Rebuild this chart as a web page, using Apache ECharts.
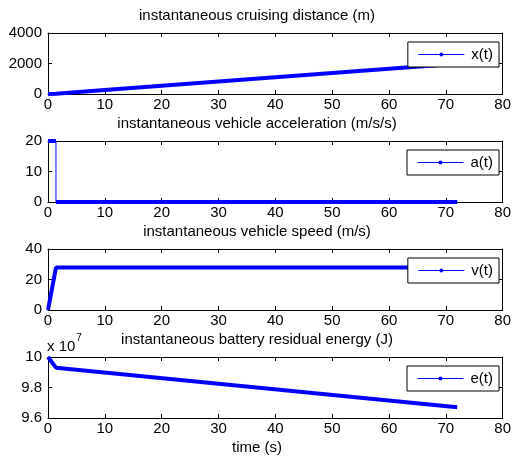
<!DOCTYPE html>
<html>
<head>
<meta charset="utf-8">
<script src="https://cdn.jsdelivr.net/npm/echarts@6/dist/echarts.min.js"></script>
<style>
html, body { margin: 0; padding: 0; background: #fff; }
#chart { width: 514px; height: 460px; }
</style>
</head>
<body>
<div id="chart"></div>
<script>
// time samples (s) and values
const tX = [0, 1.4, 10, 20, 30, 40, 50, 60, 72];
const xVals = [0, 19, 258, 536, 814, 1092, 1370, 1648, 1981];
const tA = [0, 1.4, 1.4, 72];
const aVals = [20, 20, 0, 0];
const tV = [0, 1.4, 72];
const vVals = [0, 27.8, 27.8];
const tE = [0, 1.4, 72];
const eVals = [1.0e8, 9.93e7, 9.67e7];

const titles = [
  'instantaneous cruising distance (m)',
  'instantaneous vehicle acceleration (m/s/s)',
  'instantaneous vehicle speed (m/s)',
  'instantaneous battery residual energy (J)'
];
const names = ['x(t)', 'a(t)', 'v(t)', 'e(t)'];
const yRanges = [[0, 4000, 2000], [0, 20, 10], [0, 40, 20], [9.6e7, 1.0e8, 0.2e7]];
const xTicks = [0, 80, 10];

const font = "'Liberation Sans', Arial, sans-serif";
const fs = 15;
const blue = '#0000ff';
const tops = [33, 141, 249, 357];
const plotH = 61;

function pairs(ts, vs) {
  return ts.map((t, i) => [t, vs[i]]);
}

const grids = [], xAxes = [], yAxes = [], series = [], legends = [], graphics = [];

tops.forEach((top, i) => {
  grids.push({ left: 48, right: 8, top: top, height: plotH, show: false });
  const tickStyle = { show: true, inside: true, length: 4, lineStyle: { color: '#000', width: 1 } };
  // bottom x axis with labels
  xAxes.push({
    type: 'value', gridIndex: i, min: xTicks[0], max: xTicks[1], interval: xTicks[2],
    position: 'bottom',
    axisLine: { show: true, lineStyle: { color: '#000', width: 1 } },
    axisTick: tickStyle, splitLine: { show: false },
    axisLabel: { color: '#000', fontFamily: font, fontSize: fs, margin: 3, formatter: v => String(v) }
  });
  // top x axis, ticks only
  xAxes.push({
    type: 'value', gridIndex: i, min: xTicks[0], max: xTicks[1], interval: xTicks[2],
    position: 'top',
    axisLine: { show: true, onZero: false, lineStyle: { color: '#000', width: 1 } },
    axisTick: tickStyle, splitLine: { show: false }, axisLabel: { show: false }
  });
  const yr = yRanges[i];
  yAxes.push({
    type: 'value', gridIndex: i, min: yr[0], max: yr[1], interval: yr[2],
    position: 'left',
    axisLine: { show: true, onZero: false, lineStyle: { color: '#000', width: 1 } },
    axisTick: tickStyle, splitLine: { show: false },
    axisLabel: {
      color: '#000', fontFamily: font, fontSize: fs, margin: 6,
      formatter: i === 3 ? (v => String(+(v / 1e7).toFixed(1))) : (v => String(v))
    }
  });
  yAxes.push({
    type: 'value', gridIndex: i, min: yr[0], max: yr[1], interval: yr[2],
    position: 'right',
    axisLine: { show: true, onZero: false, lineStyle: { color: '#000', width: 1 } },
    axisTick: tickStyle, splitLine: { show: false }, axisLabel: { show: false }
  });

  graphics.push({
    type: 'text', left: 'center', top: top - 25,
    style: { text: titles[i], font: fs + 'px ' + font, fill: '#000' }
  });

  legends.push({
    data: [names[i]],
    right: 15, top: top + 9,
    orient: 'vertical',
    backgroundColor: '#fff', borderColor: '#000', borderWidth: 1, borderRadius: 0,
    padding: [5, 6, 5, 10],
    itemWidth: 46, itemHeight: 5, itemGap: 0,
    lineStyle: { width: 1 },
    textStyle: { color: '#000', fontFamily: font, fontSize: fs, padding: [0, 0, 0, 2] },
    selectedMode: false
  });
});

const lineSeries = (name, idx, data, width) => ({
  name: name, type: 'line', xAxisIndex: idx * 2, yAxisIndex: idx * 2,
  data: data, symbol: 'circle', symbolSize: 3, showSymbol: false,
  lineStyle: { color: blue, width: width }, itemStyle: { color: blue },
  animation: false, silent: true
});

series.push(lineSeries('x(t)', 0, pairs(tX, xVals), 4));
// acceleration: thick flat parts, thin vertical drop
series.push(lineSeries('a(t)', 1, [[tA[0], aVals[0]], [tA[1], aVals[1]], '-', [tA[2], aVals[2]], [tA[3], aVals[3]]], 4));
series.push(lineSeries('a-drop', 1, [[tA[1], aVals[1]], [tA[2], aVals[2]]], 1));
series.push(lineSeries('v(t)', 2, pairs(tV, vVals), 4));
series.push(lineSeries('e(t)', 3, pairs(tE, eVals), 4));

// "x 10^7" multiplier above the last plot
graphics.push({
  type: 'text', left: 47, top: 333,
  style: {
    text: '{a|x 10}{b|7}',
    rich: {
      a: { font: fs + 'px ' + font, fill: '#000', verticalAlign: 'bottom', padding: [6, 0, 0, 0] },
      b: { font: '10px ' + font, fill: '#000', verticalAlign: 'top', padding: [0, 0, 0, 1] }
    }
  }
});
graphics.push({
  type: 'text', left: 'center', top: 440,
  style: { text: 'time (s)', font: fs + 'px ' + font, fill: '#000' }
});

const chart = echarts.init(document.getElementById('chart'));
chart.setOption({
  backgroundColor: '#fff',
  animation: false,
  grid: grids,
  xAxis: xAxes,
  yAxis: yAxes,
  legend: legends,
  series: series,
  graphic: graphics
});
window.addEventListener('resize', function () {
  chart.resize();
});
</script>
</body>
</html>
